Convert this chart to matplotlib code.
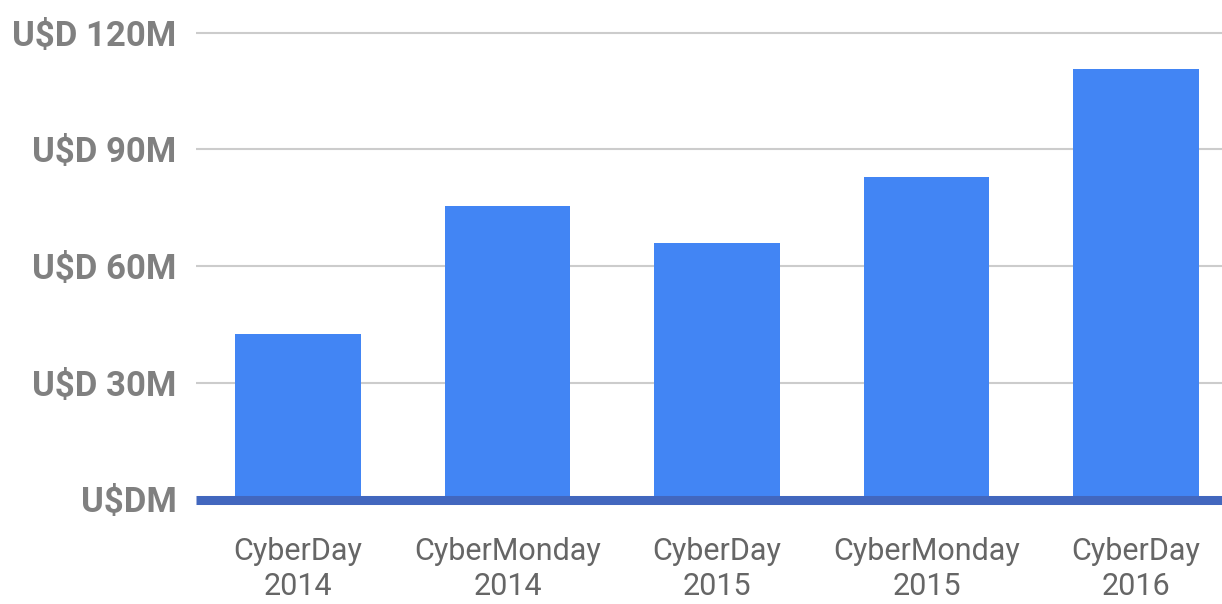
import matplotlib
matplotlib.use('Agg')
import matplotlib.pyplot as plt

# sales per event, millions of US dollars
events = ['CyberDay\n2014', 'CyberMonday\n2014', 'CyberDay\n2015',
          'CyberMonday\n2015', 'CyberDay\n2016']
sales = [42.5, 75.4, 65.9, 82.9, 110.7]

y_ticks = [0, 30, 60, 90, 120]
y_labels = ['U\\$DM', 'U\\$D 30M', 'U\\$D 60M', 'U\\$D 90M', 'U\\$D 120M']

plt.rcParams['font.family'] = ['Roboto', 'DejaVu Sans']

fig = plt.figure(figsize=(12.22, 6.04), dpi=100)
ax = fig.add_axes([196 / 1222, (604 - 499.5) / 604, 1 - 196 / 1222, (499.5 - 32.7) / 604])

x = list(range(len(events)))
ax.bar(x, sales, width=0.6, color='#4285f4', zorder=3)

ax.set_xlim(-0.487, 4.41)
ax.set_ylim(0, 120)

ax.set_yticks(y_ticks)
ax.set_yticklabels(y_labels, fontsize=25, fontweight='bold', color='#808080')
ax.set_xticks(x)
ax.set_xticklabels(events, fontsize=22, color='#666666', linespacing=1.27)

ax.tick_params(axis='both', length=0)
ax.tick_params(axis='y', pad=14)
ax.tick_params(axis='x', pad=27)

for v in y_ticks[1:]:
    ax.axhline(v, color='#cccccc', linewidth=1.5, zorder=1, clip_on=False,
               solid_capstyle='butt')
ax.axhline(0, color='#4267be', linewidth=6.5, zorder=4, clip_on=False,
           solid_capstyle='butt')

for s in ax.spines.values():
    s.set_visible(False)

fig.savefig('out.png', dpi=100)
